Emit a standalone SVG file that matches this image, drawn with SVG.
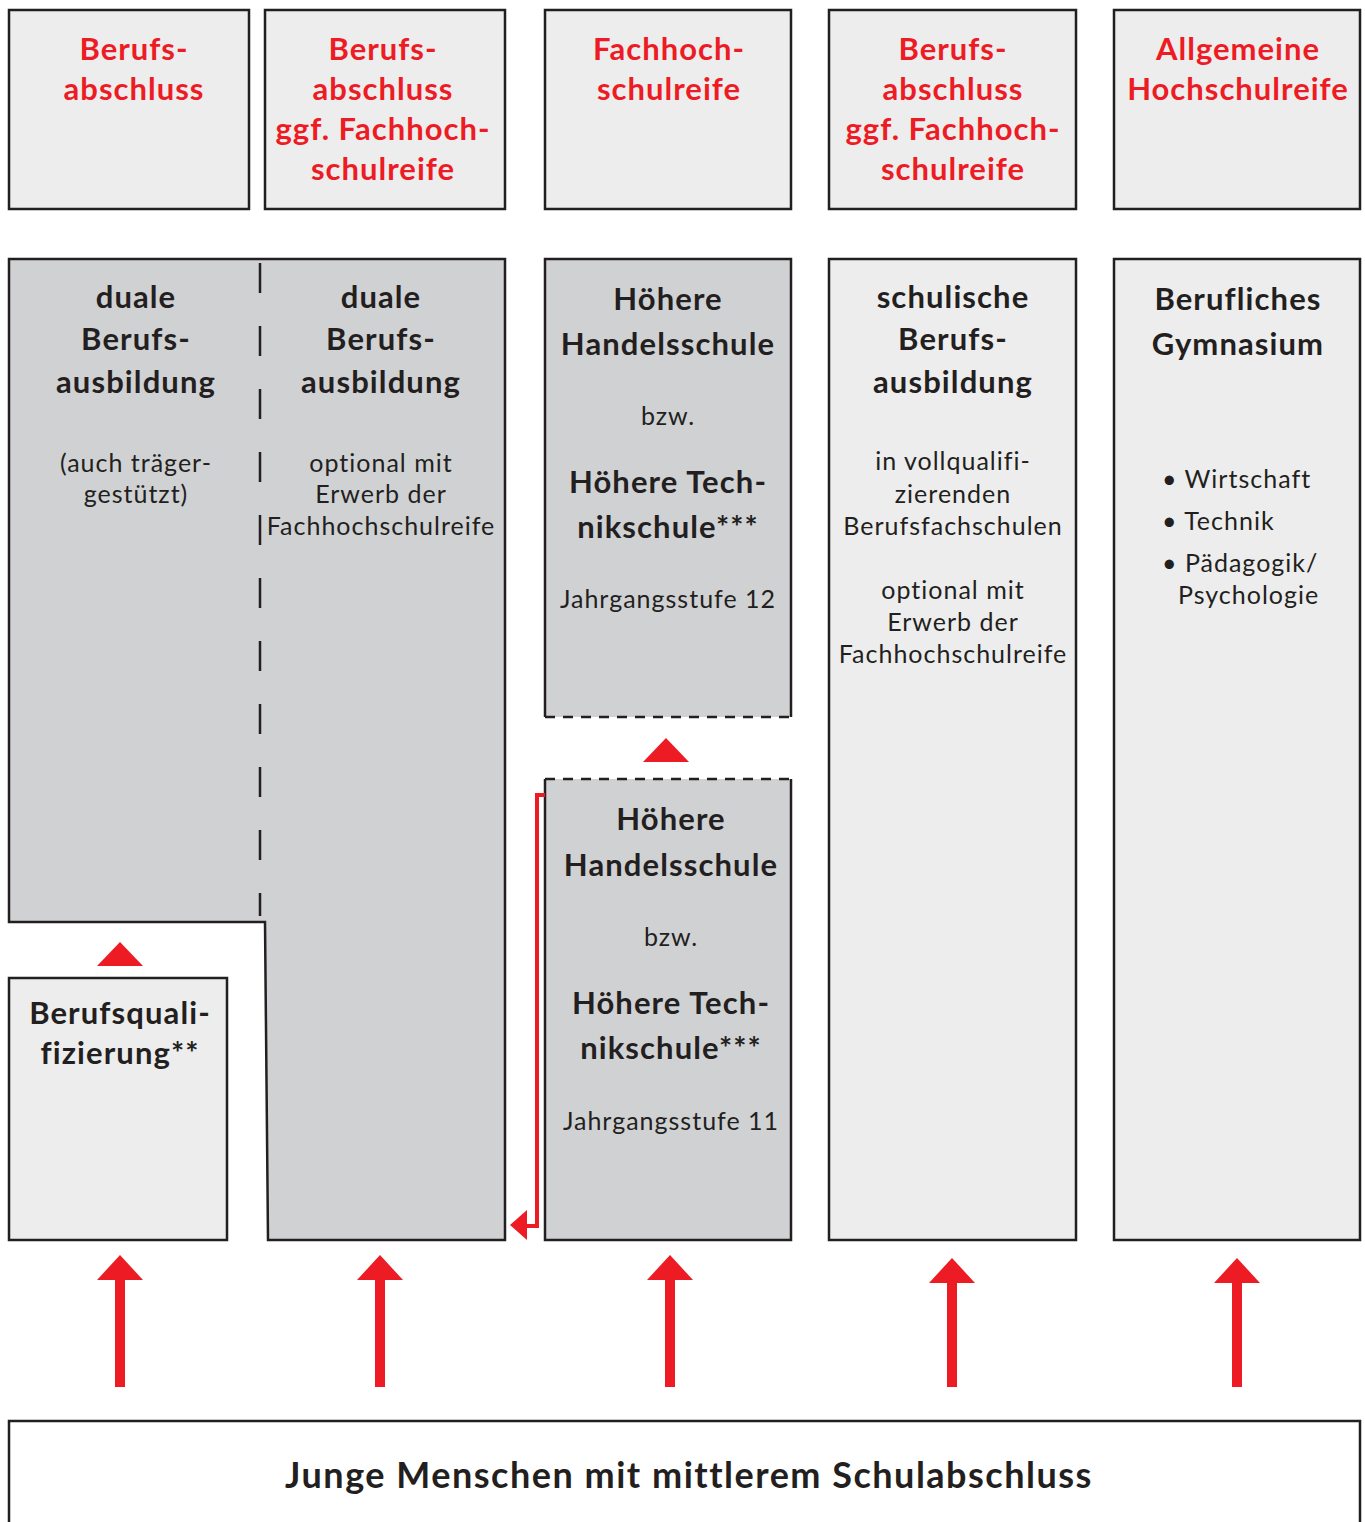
<svg xmlns="http://www.w3.org/2000/svg" width="1365" height="1522" viewBox="0 0 1365 1522">
<style>
.lt{fill:#ededed;stroke:#231f20;stroke-width:2.5}
.dk{fill:#d0d1d3;stroke:#231f20;stroke-width:2.5}
.red{font-family:Lato,"Liberation Sans",sans-serif;font-weight:bold;font-size:31px;letter-spacing:1px;fill:#ed1c24;text-anchor:middle}
.hd{font-family:Lato,"Liberation Sans",sans-serif;font-weight:bold;font-size:31px;letter-spacing:1.1px;fill:#231f20;text-anchor:middle}
.tx{font-family:Lato,"Liberation Sans",sans-serif;font-size:25px;letter-spacing:1px;fill:#231f20;text-anchor:middle}
.tl{font-family:Lato,"Liberation Sans",sans-serif;font-size:25px;letter-spacing:1px;fill:#231f20}
.arr{fill:#ed1c24}
</style>
<g id="top1"><rect class="lt" x="9" y="10" width="240" height="199"/>
<text class="red" x="134" y="60">Berufs-</text><text class="red" x="134" y="100">abschluss</text></g>
<g id="top2"><rect class="lt" x="265" y="10" width="240" height="199"/>
<text class="red" x="383" y="60">Berufs-</text><text class="red" x="383" y="100">abschluss</text><text class="red" x="383" y="140">ggf. Fachhoch-</text><text class="red" x="383" y="180">schulreife</text></g>
<g id="top3"><rect class="lt" x="545" y="10" width="246" height="199"/>
<text class="red" x="669" y="60">Fachhoch-</text><text class="red" x="669" y="100">schulreife</text></g>
<g id="top4"><rect class="lt" x="829" y="10" width="247" height="199"/>
<text class="red" x="953" y="60">Berufs-</text><text class="red" x="953" y="100">abschluss</text><text class="red" x="953" y="140">ggf. Fachhoch-</text><text class="red" x="953" y="180">schulreife</text></g>
<g id="top5"><rect class="lt" x="1114" y="10" width="246" height="199"/>
<text class="red" x="1238" y="60">Allgemeine</text><text class="red" x="1238" y="100">Hochschulreife</text></g>

<g id="duale">
<path class="dk" d="M9,259 H505 V1240 H268 L265,922 H9 Z"/>
<line x1="260" y1="260" x2="260" y2="916" stroke="#231f20" stroke-width="2.5" stroke-dasharray="30,33" stroke-dashoffset="-3"/>
<text class="hd" x="136" y="308">duale</text><text class="hd" x="136" y="350">Berufs-</text><text class="hd" x="136" y="393">ausbildung</text>
<text class="tx" x="136" y="472">(auch träger-</text><text class="tx" x="136" y="503">gestützt)</text>
<text class="hd" x="381" y="308">duale</text><text class="hd" x="381" y="350">Berufs-</text><text class="hd" x="381" y="393">ausbildung</text>
<text class="tx" x="381" y="472">optional mit</text><text class="tx" x="381" y="503">Erwerb der</text><text class="tx" x="381" y="535">Fachhochschulreife</text>
</g>

<g id="hh12">
<rect x="545" y="259" width="246" height="458" fill="#d0d1d3"/>
<path d="M545,717 V259 H791 V717" fill="none" stroke="#231f20" stroke-width="2.5"/>
<line x1="545" y1="717" x2="791" y2="717" stroke="#231f20" stroke-width="2.5" stroke-dasharray="10,8"/>
<text class="hd" x="668" y="310">Höhere</text><text class="hd" x="668" y="355">Handelsschule</text>
<text class="tx" x="668" y="425">bzw.</text>
<text class="hd" x="668" y="493">Höhere Tech-</text><text class="hd" x="668" y="538">nikschule***</text>
<text class="tx" x="668" y="608">Jahrgangsstufe 12</text>
</g>

<g id="hh11">
<rect x="545" y="779" width="246" height="461" fill="#d0d1d3"/>
<path d="M545,779 V1240 H791 V779" fill="none" stroke="#231f20" stroke-width="2.5"/>
<line x1="545" y1="779" x2="791" y2="779" stroke="#231f20" stroke-width="2.5" stroke-dasharray="10,8"/>
<text class="hd" x="671" y="830">Höhere</text><text class="hd" x="671" y="876">Handelsschule</text>
<text class="tx" x="671" y="946">bzw.</text>
<text class="hd" x="671" y="1014">Höhere Tech-</text><text class="hd" x="671" y="1059">nikschule***</text>
<text class="tx" x="671" y="1130">Jahrgangsstufe 11</text>
</g>

<g id="schulisch"><rect class="lt" x="829" y="259" width="247" height="981"/>
<text class="hd" x="953" y="308">schulische</text><text class="hd" x="953" y="350">Berufs-</text><text class="hd" x="953" y="393">ausbildung</text>
<text class="tx" x="953" y="470">in vollqualifi-</text><text class="tx" x="953" y="503">zierenden</text><text class="tx" x="953" y="535">Berufsfachschulen</text>
<text class="tx" x="953" y="599">optional mit</text><text class="tx" x="953" y="631">Erwerb der</text><text class="tx" x="953" y="663">Fachhochschulreife</text>
</g>

<g id="gymnasium"><rect class="lt" x="1114" y="259" width="246" height="981"/>
<text class="hd" x="1238" y="310">Berufliches</text><text class="hd" x="1238" y="355">Gymnasium</text>
<text class="tl" x="1162" y="488">• Wirtschaft</text><text class="tl" x="1162" y="530">• Technik</text><text class="tl" x="1162" y="572">• Pädagogik/</text><text class="tl" x="1178" y="604">Psychologie</text>
</g>

<g id="berufsquali"><rect class="lt" x="9" y="978" width="218" height="262"/>
<text class="hd" x="120" y="1024">Berufsquali-</text><text class="hd" x="120" y="1064">fizierung**</text></g>

<g id="basis"><rect x="9" y="1421" width="1351" height="120" fill="#fff" stroke="#231f20" stroke-width="2.5"/>
<text class="hd" x="689" y="1488" style="font-size:36px;letter-spacing:1.5px">Junge Menschen mit mittlerem Schulabschluss</text></g>

<g id="connectors">
<polygon class="arr" points="120,942 143,966 97,966"/>
<polygon class="arr" points="666,738 689,762 643,762"/>
<path d="M545,795 H537 V1226 H525" fill="none" stroke="#ed1c24" stroke-width="4"/>
<polygon class="arr" points="510,1225 527,1210 527,1240"/>
<g id="up1"><rect class="arr" x="115" y="1280" width="10" height="107"/><polygon class="arr" points="120,1255 143,1280 97,1280"/></g>
<g id="up2"><rect class="arr" x="375" y="1280" width="10" height="107"/><polygon class="arr" points="380,1255 403,1280 357,1280"/></g>
<g id="up3"><rect class="arr" x="665" y="1280" width="10" height="107"/><polygon class="arr" points="670,1255 693,1280 647,1280"/></g>
<g id="up4"><rect class="arr" x="947" y="1283" width="10" height="104"/><polygon class="arr" points="952,1258 975,1283 929,1283"/></g>
<g id="up5"><rect class="arr" x="1232" y="1283" width="10" height="104"/><polygon class="arr" points="1237,1258 1260,1283 1214,1283"/></g>
</g>
</svg>
